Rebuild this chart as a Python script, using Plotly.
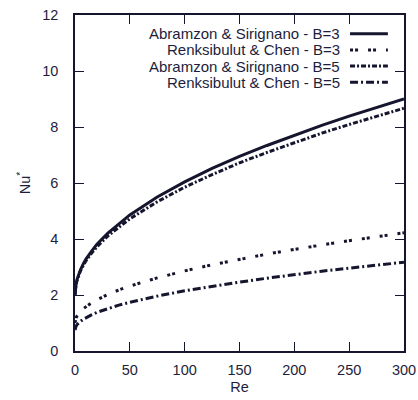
import plotly.graph_objects as go

# Reynolds number sample points
re_vals = [0, 0.25, 0.5, 1, 2, 3, 5, 7.5, 10, 15, 20, 30, 40, 50, 75, 100,
           125, 150, 175, 200, 225, 250, 275, 300]

# Modified Nusselt number, Abramzon & Sirignano, B=3
nu_as_b3 = [2.00, 2.20, 2.29, 2.40, 2.57, 2.70, 2.90, 3.11, 3.28, 3.56, 3.81,
            4.21, 4.55, 4.86, 5.50, 6.04, 6.52, 6.95, 7.34, 7.71, 8.06, 8.39,
            8.70, 9.00]
# Renksizbulut & Chen, B=3
nu_rc_b3 = [1.00, 1.09, 1.13, 1.19, 1.26, 1.32, 1.42, 1.51, 1.59, 1.72, 1.83,
            2.02, 2.18, 2.32, 2.61, 2.86, 3.08, 3.28, 3.46, 3.63, 3.79, 3.94,
            4.08, 4.22]
# Abramzon & Sirignano, B=5
nu_as_b5 = [2.00, 2.19, 2.27, 2.39, 2.54, 2.67, 2.86, 3.05, 3.22, 3.49, 3.72,
            4.11, 4.43, 4.72, 5.33, 5.85, 6.30, 6.72, 7.09, 7.44, 7.78, 8.09,
            8.38, 8.67]
# Renksizbulut & Chen, B=5
nu_rc_b5 = [0.75, 0.82, 0.85, 0.89, 0.95, 0.99, 1.06, 1.13, 1.19, 1.29, 1.38,
            1.52, 1.64, 1.74, 1.96, 2.15, 2.31, 2.46, 2.60, 2.73, 2.85, 2.96,
            3.07, 3.17]

series_names = ["Abramzon & Sirignano - B=3", "Renksibulut & Chen - B=3",
                "Abramzon & Sirignano - B=5", "Renksibulut & Chen - B=5"]
series_values = [nu_as_b3, nu_rc_b3, nu_as_b5, nu_rc_b5]

x_ticks = [0, 50, 100, 150, 200, 250, 300]
y_ticks = [0, 2, 4, 6, 8, 10, 12]

ink = "#15152e"
text_col = "#1d1d3c"
font_family = "Liberation Sans, Arial, Helvetica, sans-serif"
dashes = ["solid", "3px,2px,3px,10px", "5px,2px,2px,2px", "8px,3px,2px,3px"]
widths = [3.0, 3.0, 3.0, 3.0]

fig = go.Figure()
for name, vals, dash, w in zip(series_names, series_values, dashes, widths):
    fig.add_trace(go.Scatter(
        x=re_vals, y=vals, mode="lines", name=name,
        line=dict(color=ink, width=w, dash=dash),
        showlegend=False,
    ))

# Legend drawn by hand: right-aligned labels followed by line samples
row_y = [0.944, 0.896, 0.848, 0.800]
for name, dash, w, yy in zip(series_names, dashes, widths, row_y):
    fig.add_annotation(
        x=0.807, y=yy, xref="paper", yref="paper", text=name,
        showarrow=False, xanchor="right", yanchor="middle", borderpad=0,
        font=dict(family=font_family, size=15, color=text_col),
    )
    fig.add_shape(
        type="line", xref="paper", yref="paper",
        x0=0.836, x1=0.951, y0=yy, y1=yy,
        line=dict(color=ink, width=w, dash=dash),
    )

axis_common = dict(
    showline=True, linecolor=ink, linewidth=1.6, mirror="ticks",
    ticks="inside", ticklen=9, tickwidth=1.4, tickcolor=ink,
    showgrid=False, zeroline=False, automargin=False,
    tickfont=dict(family=font_family, size=14.5, color=text_col),
)

fig.update_xaxes(
    range=[0, 300], tickvals=x_ticks, ticktext=[str(v) for v in x_ticks],
    title=dict(text="Re", font=dict(family=font_family, size=14.5, color=text_col),
               standoff=5),
    ticklabelstandoff=5,
    **axis_common,
)
fig.update_yaxes(
    range=[0, 12], tickvals=y_ticks, ticktext=[str(v) for v in y_ticks],
    title=dict(text="Nu<sup>*</sup>",
               font=dict(family=font_family, size=14.5, color=text_col),
               standoff=8),
    ticklabelstandoff=12,
    **axis_common,
)

fig.update_layout(
    width=418, height=400,
    margin=dict(l=75, r=14, t=15, b=49),
    plot_bgcolor="white", paper_bgcolor="white",
    showlegend=False,
)

fig.write_html("out.html")
